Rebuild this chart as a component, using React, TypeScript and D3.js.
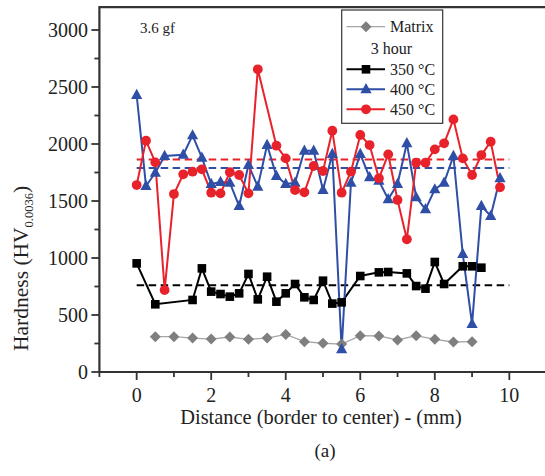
import React from "react";
import * as d3 from "d3";

const matrixX = [0.5, 1, 1.5, 2, 2.5, 3, 3.5, 4, 4.5, 5, 5.5, 6, 6.5, 7, 7.5, 8, 8.5, 9];
const matrixV = [310, 310, 298, 289, 307, 287, 298, 330, 266, 252, 245, 319, 316, 281, 319, 287, 263, 266];

const x350 = [0, 0.5, 1.5, 1.75, 2, 2.25, 2.5, 2.75, 3, 3.25, 3.5, 3.75, 4, 4.25, 4.5, 4.75, 5, 5.25, 5.5, 6, 6.5, 6.75, 7.25, 7.5, 7.75, 8, 8.25, 8.75, 9, 9.25];
const v350 = [953, 594, 632, 909, 705, 684, 661, 690, 860, 637, 836, 617, 690, 772, 655, 632, 801, 600, 611, 842, 874, 877, 865, 754, 731, 965, 772, 927, 927, 915];

const x400 = [0, 0.25, 0.5, 0.75, 1.25, 1.5, 1.75, 2, 2.25, 2.5, 2.75, 3, 3.25, 3.5, 3.75, 4, 4.25, 4.5, 4.75, 5, 5.25, 5.5, 5.75, 6, 6.25, 6.5, 6.75, 7, 7.25, 7.5, 7.75, 8, 8.25, 8.5, 8.75, 9, 9.25, 9.5, 9.75];
const v400 = [2430, 1632, 1748, 1895, 1906, 2076, 1880, 1649, 1667, 1661, 1456, 1816, 1626, 1991, 1719, 1649, 1661, 1941, 1941, 1596, 1912, 199, 1661, 1912, 1708, 1678, 1515, 1649, 2006, 1532, 1427, 1602, 1661, 1895, 1035, 421, 1456, 1368, 1699];

const x450 = [0, 0.25, 0.5, 0.75, 1, 1.25, 1.5, 1.75, 2, 2.25, 2.5, 2.75, 3, 3.25, 3.75, 4, 4.25, 4.5, 4.75, 5, 5.25, 5.5, 5.75, 6, 6.25, 6.5, 6.75, 7, 7.25, 7.5, 7.75, 8, 8.25, 8.5, 8.75, 9, 9.25, 9.5, 9.75];
const v450 = [1640, 2029, 1839, 719, 1561, 1734, 1757, 1778, 1573, 1567, 1752, 1728, 1567, 2655, 1985, 1874, 1596, 1576, 1807, 1763, 2117, 1573, 1757, 2079, 1991, 1699, 1909, 1509, 1164, 1836, 1836, 1953, 2006, 2216, 1874, 1728, 1903, 2020, 1620];

const meanValues = [760, 1790, 1865];
const meanColors = ["#000000", "#2f4ea6", "#e8222b"];
const meanRange = [0, 10];

const xTicks = [0, 2, 4, 6, 8, 10];
const xMinor = [-1, 1, 3, 5, 7, 9];
const yTicks = [0, 500, 1000, 1500, 2000, 2500, 3000];
const yMinor = [250, 750, 1250, 1750, 2250, 2750];

const legendLabels = ["Matrix", "3 hour", "350 °C", "400 °C", "450 °C"];

const RED = "#e8222b";
const BLUE = "#2f4ea6";
const GREY = "#7f7f7f";
const AX = "#333333";
const FONT = "'Liberation Serif', 'Times New Roman', serif";

export default function App() {
  const W = 545, H = 476;
  const x = d3.scaleLinear().domain([-1, 11]).range([99.4, 546.6]);
  const y = d3.scaleLinear().domain([0, 3200]).range([372, 7.2]);

  const mk = (xs: number[], vs: number[]) => xs.map((d, i) => [d, vs[i]] as [number, number]);
  const line = d3.line<[number, number]>().x(d => x(d[0])).y(d => y(d[1]));

  const sMatrix = mk(matrixX, matrixV);
  const s350 = mk(x350, v350);
  const s400 = mk(x400, v400);
  const s450 = mk(x450, v450);

  const square = (cx: number, cy: number, k: string | number) => (
    <rect key={k} x={cx - 4.3} y={cy - 4.3} width={8.6} height={8.6} fill="#000" />
  );
  const tri = (cx: number, cy: number, k: string | number) => (
    <path key={k} d={`M${cx},${cy - 6.2}L${cx + 5.6},${cy + 4}L${cx - 5.6},${cy + 4}Z`} fill={BLUE} />
  );
  const circ = (cx: number, cy: number, k: string | number) => (
    <circle key={k} cx={cx} cy={cy} r={4.9} fill={RED} />
  );
  const diam = (cx: number, cy: number, k: string | number) => (
    <path key={k} d={`M${cx},${cy - 5.5}L${cx + 5.5},${cy}L${cx},${cy + 5.5}L${cx - 5.5},${cy}Z`} fill={GREY} />
  );

  const lx0 = 346.5, lx1 = 385, lmx = 366, ltx = 390;
  const rowY = [26.7, 48.3, 69.3, 89.3, 109.3];

  return (
    <svg width={W} height={H} style={{ position: "absolute", left: 0, top: 0, background: "#fff" }} fontFamily={FONT}>
      <rect x={0} y={0} width={W} height={H} fill="#fff" />
      {meanValues.map((m, i) => (
        <line key={"m" + i} x1={x(meanRange[0])} x2={x(meanRange[1])} y1={y(m)} y2={y(m)}
          stroke={meanColors[i]} strokeWidth={2} strokeDasharray="7.5,4.5" />
      ))}
      <path d={line(sMatrix) || ""} fill="none" stroke="#a6a6a6" strokeWidth={1.3} />
      <path d={line(s350) || ""} fill="none" stroke="#000" strokeWidth={2} />
      <path d={line(s400) || ""} fill="none" stroke={BLUE} strokeWidth={2} />
      <path d={line(s450) || ""} fill="none" stroke={RED} strokeWidth={2} />
      {sMatrix.map((d, i) => diam(x(d[0]), y(d[1]), "d" + i))}
      {s350.map((d, i) => square(x(d[0]), y(d[1]), "s" + i))}
      {s400.map((d, i) => tri(x(d[0]), y(d[1]), "t" + i))}
      {s450.map((d, i) => circ(x(d[0]), y(d[1]), "c" + i))}

      <line x1={99.4} x2={W} y1={y(0)} y2={y(0)} stroke={AX} strokeWidth={2.2} />
      <line x1={99.4} x2={W} y1={7.2} y2={7.2} stroke={AX} strokeWidth={2.2} />
      <line x1={99.4} x2={99.4} y1={6.1} y2={y(0) + 1.1} stroke={AX} strokeWidth={2.2} />
      {xTicks.map(t => (
        <g key={"xt" + t}>
          <line x1={x(t)} x2={x(t)} y1={y(0)} y2={y(0) + 8} stroke={AX} strokeWidth={1.8} />
          <text x={x(t)} y={402} textAnchor="middle" fontSize={20} fill="#222">{t}</text>
        </g>
      ))}
      {xMinor.map(t => (
        <line key={"xm" + t} x1={x(t)} x2={x(t)} y1={y(0)} y2={y(0) + 5} stroke={AX} strokeWidth={1.8} />
      ))}
      {yTicks.map(t => (
        <g key={"yt" + t}>
          <line x1={99.4} x2={91.4} y1={y(t)} y2={y(t)} stroke={AX} strokeWidth={1.8} />
          <text x={88} y={y(t) + 6.5} textAnchor="end" fontSize={20} fill="#222">{t}</text>
        </g>
      ))}
      {yMinor.map(t => (
        <line key={"ym" + t} x1={99.4} x2={94.4} y1={y(t)} y2={y(t)} stroke={AX} strokeWidth={1.8} />
      ))}

      <text x={321} y={424} textAnchor="middle" fontSize={20.4} fill="#222">Distance (border to center) - (mm)</text>
      <text x={325} y={457} textAnchor="middle" fontSize={19} fill="#222">(a)</text>
      <text transform="translate(28,351) rotate(-90)" textAnchor="start" fontSize={21.5} fill="#222">
        Hardness (HV<tspan fontSize={12.5} dy={5}>0.0036</tspan><tspan dy={-5}>)</tspan>
      </text>
      <text x={140} y={33} fontSize={15} fill="#222">3.6 gf</text>

      <rect x={341.7} y={10} width={101} height={113.3} fill="#fff" stroke={AX} strokeWidth={1.2} />
      <line x1={lx0} x2={lx1} y1={rowY[0]} y2={rowY[0]} stroke="#a6a6a6" strokeWidth={1.3} />
      {diam(lmx, rowY[0], "ld")}
      <text x={ltx} y={rowY[0] + 5.5} fontSize={16} fill="#222">{legendLabels[0]}</text>
      <text x={391.5} y={rowY[1] + 5.5} fontSize={16} fill="#222" textAnchor="middle">{legendLabels[1]}</text>
      <line x1={lx0} x2={lx1} y1={rowY[2]} y2={rowY[2]} stroke="#000" strokeWidth={2} />
      {square(lmx, rowY[2], "ls")}
      <text x={ltx} y={rowY[2] + 5.5} fontSize={16} fill="#222">{legendLabels[2]}</text>
      <line x1={lx0} x2={lx1} y1={rowY[3]} y2={rowY[3]} stroke={BLUE} strokeWidth={2} />
      {tri(lmx, rowY[3], "lt")}
      <text x={ltx} y={rowY[3] + 5.5} fontSize={16} fill="#222">{legendLabels[3]}</text>
      <line x1={lx0} x2={lx1} y1={rowY[4]} y2={rowY[4]} stroke={RED} strokeWidth={2} />
      {circ(lmx, rowY[4], "lc")}
      <text x={ltx} y={rowY[4] + 5.5} fontSize={16} fill="#222">{legendLabels[4]}</text>
    </svg>
  );
}
